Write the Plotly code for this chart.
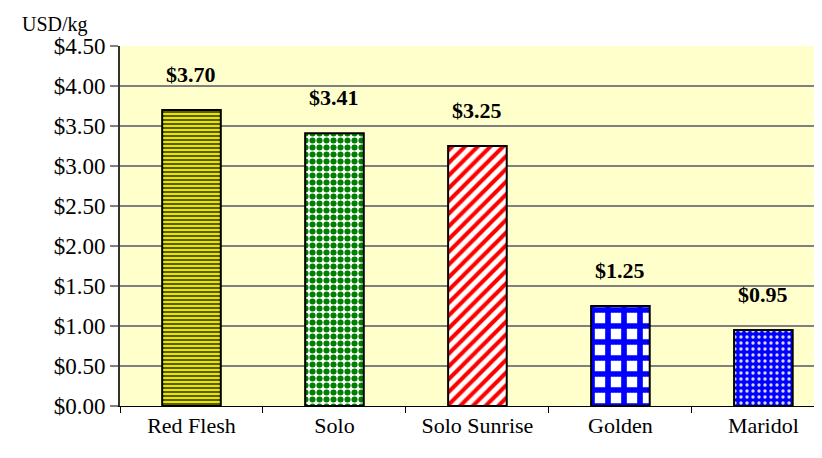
import plotly.graph_objects as go

varieties = ["Red Flesh", "Solo", "Solo Sunrise", "Golden", "Maridol"]
prices = [3.70, 3.41, 3.25, 1.25, 0.95]
price_labels = ["$3.70", "$3.41", "$3.25", "$1.25", "$0.95"]
y_ticks = [0, 0.5, 1.0, 1.5, 2.0, 2.5, 3.0, 3.5, 4.0, 4.5]
y_tick_text = ["$0.00", "$0.50", "$1.00", "$1.50", "$2.00",
               "$2.50", "$3.00", "$3.50", "$4.00", "$4.50"]

serif = "Times New Roman, serif"

fig = go.Figure()

fig.add_trace(go.Bar(
    x=varieties,
    y=prices,
    width=0.41,
    marker=dict(
        line=dict(color="black", width=2),
        pattern=dict(
            shape=["-", ".", "/", "+", "."],
            fgcolor=["#5C5C00", "#008000", "#FF0000", "#0000FF", "#D8D8FF"],
            bgcolor=["#E6E600", "#FFFFFF", "#FFFFFF", "#FFFFFF", "#0000FF"],
            size=[4, 7, 9, 16, 6],
            solidity=[0.5, 0.6, 0.45, 0.58, 0.25],
            fillmode="replace",
        ),
    ),
    showlegend=False,
    hoverinfo="skip",
))

# value labels float well above each bar
for v, p, lab in zip(varieties, prices, price_labels):
    fig.add_annotation(x=v, y=p, text="<b>%s</b>" % lab, showarrow=False,
                       yshift=36, font=dict(family=serif, size=22, color="black"))

fig.add_annotation(x=0, y=1, xref="paper", yref="paper", xanchor="right", yanchor="bottom",
                   xshift=-30, yshift=8, text="USD/kg", showarrow=False,
                   font=dict(family=serif, size=20, color="black"))

fig.update_xaxes(range=[-0.5, 4.41],
                 showline=True, linecolor="black", linewidth=1,
                 ticks="outside", ticklen=6, tickcolor="black",
                 tickson="boundaries",
                 tickfont=dict(family=serif, size=22, color="black"),
                 showgrid=False)

fig.update_yaxes(range=[0, 4.5],
                 tickvals=y_ticks, ticktext=y_tick_text,
                 showline=True, linecolor="#333333", linewidth=2,
                 ticks="outside", ticklen=8, tickcolor="#808080", tickwidth=2,
                 gridcolor="#808080", gridwidth=2,
                 tickfont=dict(family=serif, size=23, color="black"),
                 zeroline=False)

fig.update_layout(width=822, height=458,
                  margin=dict(l=112, r=8, t=38, b=60),
                  font=dict(family=serif),
                  plot_bgcolor="#FFFFCC",
                  paper_bgcolor="white",
                  bargap=0.59)

fig.write_html("out.html")
